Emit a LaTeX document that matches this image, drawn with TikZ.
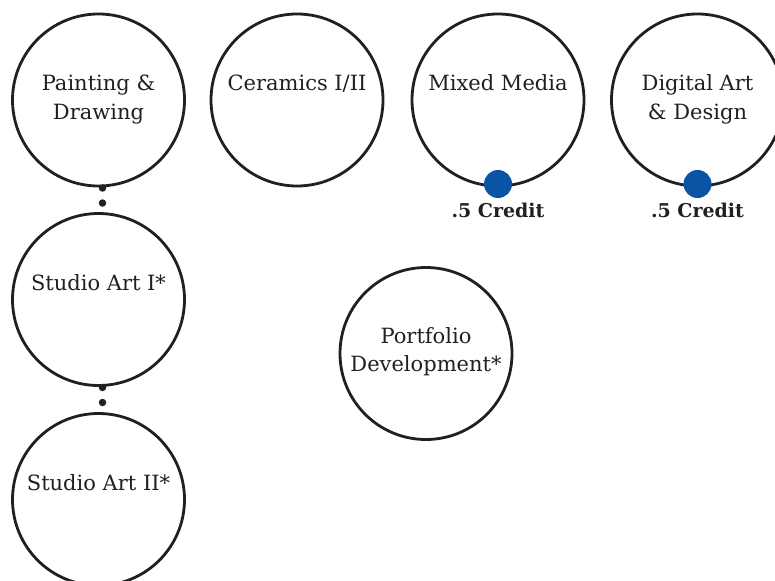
\documentclass[tikz,border=0pt]{standalone}
\usepackage{fontspec}
\setmainfont{DejaVu Serif}
\definecolor{ink}{HTML}{231F20}
\definecolor{creditblue}{HTML}{0B54A4}
\begin{document}
\begin{tikzpicture}[x=1pt,y=-1pt,
  course/.style={circle,draw=ink,line width=2.8pt,fill=white,minimum size=172pt,inner sep=0pt,outer sep=0pt},
  ctext/.style={align=center,text=ink,font=\fontsize{21}{28.5}\selectfont,inner sep=0pt,anchor=base},
  creditdot/.style={circle,fill=creditblue,minimum size=28pt,inner sep=0pt},
  credittext/.style={text=ink,font=\fontsize{19}{22}\selectfont\bfseries,inner sep=0pt,anchor=base},
  link/.style={draw=ink,line width=7.5pt,line cap=round,dash pattern=on 0pt off 15pt}
]
\clip (0,0) rectangle (775,580);
\fill[white] (0,0) rectangle (775,580);
% circles
\node[course] (pd) at (98.5,100) {};
\node[course] (cer) at (297,100) {};
\node[course] (mm) at (498,100) {};
\node[course] (dad) at (697.5,100) {};
\node[course] (sa1) at (98.5,299.5) {};
\node[course] (sa2) at (98.5,499.5) {};
\node[course] (pf) at (426,353.5) {};
% labels (base anchor = last line baseline)
\node[ctext] (tpd) at (98.5,119.2) {Painting \&\\Drawing};
\node[ctext] (tcer) at (297,90.7) {Ceramics I/II};
\node[ctext] (tmm) at (498,90.7) {Mixed Media};
\node[ctext] (tdad) at (697.5,119.2) {Digital Art\\\& Design};
\node[ctext] (tsa1) at (98.5,290.5) {Studio Art I*};
\node[ctext] (tsa2) at (98.5,490.5) {Studio Art II*};
\node[ctext] (tpf) at (426,371.5) {Portfolio\\Development*};
% credit markers
\node[creditdot] (mmdot) at ([yshift=2pt]mm.south) {};
\node[creditdot] (daddot) at ([yshift=2pt]dad.south) {};
\node[credittext] (mmcr) at (498,217.3) {.5 Credit};
\node[credittext] (dadcr) at (697.5,217.3) {.5 Credit};
% connectors
\path[link] ([xshift=4pt,yshift=-2pt]pd.south) -- ([xshift=4pt]sa1.north);
\path[link] ([xshift=4pt,yshift=-2pt]sa1.south) -- ([xshift=4pt]sa2.north);
\end{tikzpicture}
\end{document}
